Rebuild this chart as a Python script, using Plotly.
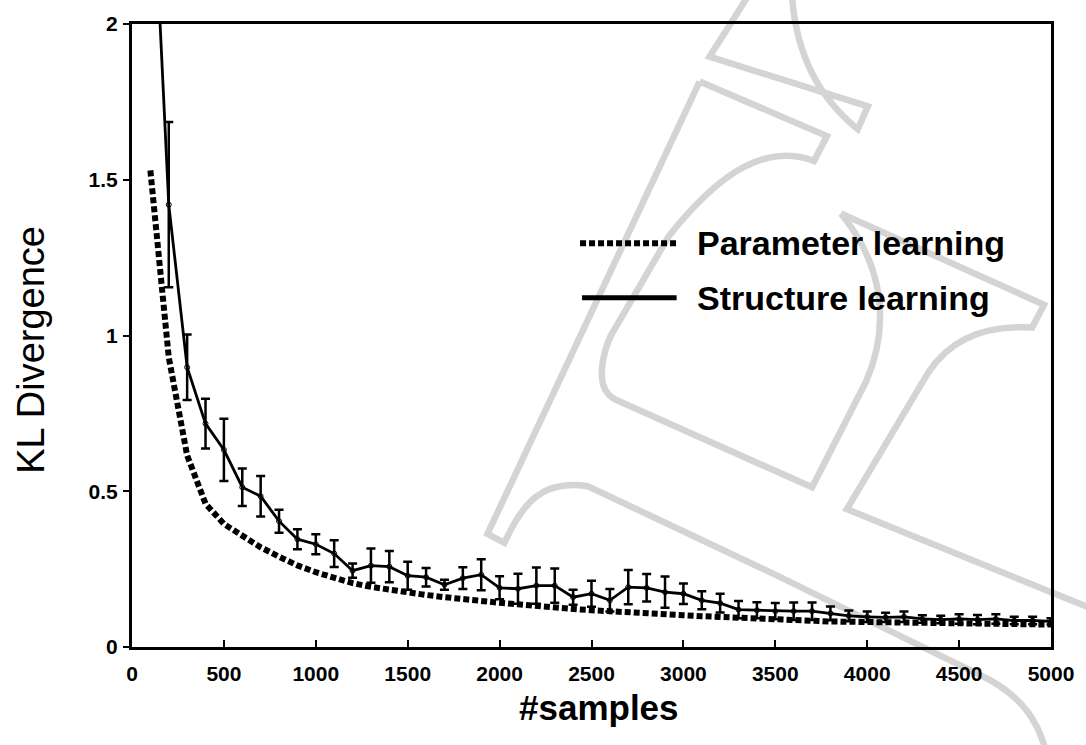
import plotly.graph_objects as go

# ---------------- data ----------------
samples = [100, 200, 300, 400, 500, 600, 700, 800, 900, 1000,
           1100, 1200, 1300, 1400, 1500, 1600, 1700, 1800, 1900, 2000,
           2100, 2200, 2300, 2400, 2500, 2600, 2700, 2800, 2900, 3000,
           3100, 3200, 3300, 3400, 3500, 3600, 3700, 3800, 3900, 4000,
           4100, 4200, 4300, 4400, 4500, 4600, 4700, 4800, 4900, 5000]

parameter_kl = [1.53, 0.93, 0.615, 0.46, 0.395, 0.355, 0.32, 0.29, 0.262, 0.24,
                0.22, 0.205, 0.193, 0.183, 0.175, 0.167, 0.16, 0.153, 0.147, 0.142,
                0.137, 0.131, 0.126, 0.122, 0.118, 0.114, 0.111, 0.108, 0.105, 0.102,
                0.099, 0.096, 0.093, 0.09, 0.088, 0.086, 0.084, 0.082, 0.081, 0.08,
                0.079, 0.078, 0.077, 0.076, 0.075, 0.075, 0.074, 0.073, 0.073, 0.072]

structure_kl = [2.65, 1.42, 0.898, 0.717, 0.633, 0.513, 0.484, 0.404, 0.346, 0.330,
                0.300, 0.245, 0.261, 0.258, 0.229, 0.224, 0.200, 0.221, 0.232, 0.190,
                0.187, 0.197, 0.197, 0.160, 0.171, 0.150, 0.192, 0.190, 0.176, 0.171,
                0.150, 0.141, 0.120, 0.118, 0.115, 0.115, 0.115, 0.108, 0.100, 0.097,
                0.095, 0.097, 0.090, 0.088, 0.090, 0.088, 0.090, 0.085, 0.085, 0.082]

structure_err = [0.30, 0.265, 0.105, 0.08, 0.10, 0.06, 0.065, 0.037, 0.032, 0.032,
                 0.043, 0.023, 0.055, 0.05, 0.045, 0.03, 0.016, 0.035, 0.05, 0.037,
                 0.048, 0.058, 0.055, 0.024, 0.042, 0.036, 0.055, 0.044, 0.05, 0.033,
                 0.029, 0.03, 0.028, 0.026, 0.026, 0.028, 0.028, 0.022, 0.017, 0.017,
                 0.015, 0.017, 0.012, 0.012, 0.015, 0.015, 0.015, 0.012, 0.012, 0.01]

x_ticks = [0, 500, 1000, 1500, 2000, 2500, 3000, 3500, 4000, 4500, 5000]
x_tick_labels = ["0", "500", "1000", "1500", "2000", "2500", "3000", "3500", "4000", "4500", "5000"]
y_ticks = [0, 0.5, 1, 1.5, 2]
y_tick_labels = ["0", "0.5", "1", "1.5", "2"]

series_names = ["Parameter learning", "Structure learning"]
x_title = "#samples"
y_title = "KL Divergence"

# ---------------- layout geometry ----------------
W, H = 1086, 745
ML, MR, MT, MB = 132, 31, 19, 98
PW, PH = W - ML - MR, H - MT - MB


def px2paper(px, py):
    return (px - ML) / PW, (H - MB - py) / PH


def path_from(cmds):
    out = []
    for c in cmds:
        if isinstance(c, str):
            out.append(c)
        else:
            xp, yp = px2paper(*c)
            out.append(f"{xp:.4f},{yp:.4f}")
    return " ".join(out)


fig = go.Figure()

fig.add_trace(go.Scatter(
    x=samples, y=parameter_kl, mode="lines", name=series_names[0],
    line=dict(color="black", width=6, dash="6px,3px"),
    showlegend=False,
))

fig.add_trace(go.Scatter(
    x=samples, y=structure_kl, mode="lines+markers", name=series_names[1],
    line=dict(color="black", width=2.8),
    marker=dict(symbol="circle-open", size=5, color="black", line=dict(width=1)),
    error_y=dict(type="data", array=structure_err, visible=True,
                 color="black", thickness=2.5, width=4.5),
    showlegend=False,
))

# ---------------- watermark (decorative background outline) ----------------
wm_paths = [
    ["M", (750, -8), "L", (712, 52), "L", (871, 102), "L", (861, 125),
     "C", (830, 100), (800, 60), (795, -8)],
    ["M", (702, 77), "L", (489, 533), "L", (506, 542),
     "C", (525, 500), (545, 478), (590, 485), "L", (780, 575), "L", (993, 680),
     "C", (1025, 698), (1043, 720), (1052, 760)],
    ["M", (702, 77), "L", (830, 132), "L", (817, 157),
     "C", (770, 140), (725, 165), (671, 233), "L", (613, 333),
     "C", (605, 350), (602, 370), (605, 382), "C", (608, 392), (614, 397), (623, 400),
     "L", (815, 486), "L", (869, 380), "C", (895, 320), (885, 260), (844, 210)],
    ["M", (844, 210), "L", (1048, 302), "L", (1036, 325),
     "C", (990, 322), (955, 335), (932, 370), "L", (850, 508), "L", (1095, 608)],
]
shapes = []
for p in wm_paths:
    shapes.append(dict(type="path", xref="paper", yref="paper", layer="below",
                       path=path_from(p), line=dict(color="#d4d4d4", width=6.5)))

# ---------------- custom legend ----------------
leg_x0, leg_x1, leg_text_x = 582, 679, 697
leg_y = [240, 295]
x0p, y0p = px2paper(leg_x0, leg_y[0])
x1p, _ = px2paper(leg_x1, leg_y[0])
shapes.append(dict(type="line", xref="paper", yref="paper", x0=x0p, x1=x1p, y0=y0p, y1=y0p,
                   line=dict(color="black", width=6, dash="6px,3px"), layer="above"))
x0p, y1p = px2paper(leg_x0 + 2, leg_y[1])
x1p, _ = px2paper(leg_x1, leg_y[1])
shapes.append(dict(type="line", xref="paper", yref="paper", x0=x0p, x1=x1p, y0=y1p, y1=y1p,
                   line=dict(color="black", width=5), layer="above"))

annotations = []
for name, ly in zip(series_names, leg_y):
    xp, yp = px2paper(leg_text_x, ly)
    annotations.append(dict(text=name, xref="paper", yref="paper", x=xp, y=yp,
                            xanchor="left", yanchor="middle", showarrow=False,
                            font=dict(family="Liberation Sans, Arial, sans-serif",
                                      size=34, color="black", weight="bold")))

# axis titles
xp, yp = px2paper(601, 708)
annotations.append(dict(text=x_title, xref="paper", yref="paper", x=xp, y=yp,
                        xanchor="center", yanchor="middle", showarrow=False,
                        font=dict(family="Liberation Sans, Arial, sans-serif",
                                  size=35, color="black", weight="bold")))
xp, yp = px2paper(31, 347)
annotations.append(dict(text=y_title, xref="paper", yref="paper", x=xp, y=yp,
                        xanchor="center", yanchor="middle", showarrow=False, textangle=-90,
                        font=dict(family="Liberation Sans, Arial, sans-serif",
                                  size=38, color="black")))

tick_font = dict(family="Liberation Sans, Arial, sans-serif", size=21, color="black",
                 weight="bold")

fig.update_layout(
    width=W, height=H,
    margin=dict(l=ML, r=MR, t=MT, b=MB, pad=0),
    paper_bgcolor="white", plot_bgcolor="rgba(0,0,0,0)",
    showlegend=False,
    shapes=shapes, annotations=annotations,
    xaxis=dict(range=[0, 5000], tickvals=x_ticks, ticktext=x_tick_labels,
               showgrid=False, zeroline=False, showline=True, linecolor="black",
               linewidth=3, mirror=True, ticks="inside", ticklen=7, tickwidth=2,
               tickcolor="black", tickfont=tick_font, ticklabelstandoff=6),
    yaxis=dict(range=[0, 2], tickvals=y_ticks, ticktext=y_tick_labels,
               showgrid=False, zeroline=False, showline=True, linecolor="black",
               linewidth=3, mirror=True, ticks="outside", ticklen=6, tickwidth=2,
               tickcolor="black", tickfont=tick_font, ticklabelstandoff=1),
)

fig.write_html("out.html", config={"displayModeBar": False},
               post_script="document.body.style.margin='0';document.body.style.padding='0';")
